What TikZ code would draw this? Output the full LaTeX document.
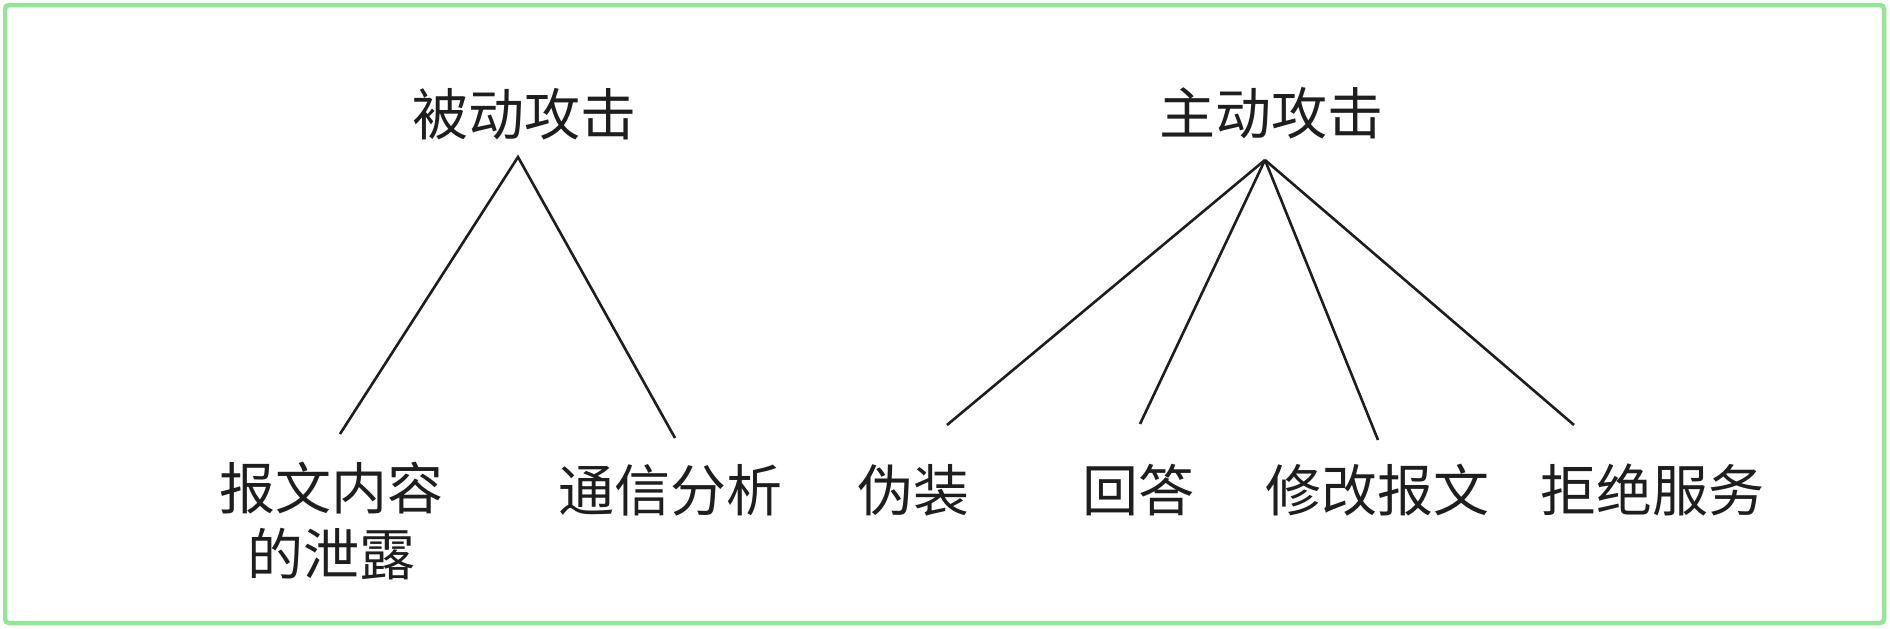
\documentclass[tikz,border=0pt]{standalone}
\usepackage{fontspec}
\newfontfamily\cjk{Noto Sans CJK SC}
\definecolor{frame}{RGB}{150,228,150}
\definecolor{ink}{RGB}{30,30,30}
\begin{document}
\begin{tikzpicture}[x=1pt,y=-1pt,
  lbl/.style={font=\cjk\fontsize{56}{66}\selectfont, text=ink, inner sep=0pt, align=center},
  edge/.style={draw=ink, line width=2.6pt}]
\useasboundingbox (0,0) rectangle (1890,629);
\fill[white] (0,0) rectangle (1890,629);
\draw[frame, line width=4.5pt, rounded corners=4pt] (5,5) rectangle (1884,623);
% titles
\node[lbl] (pas) at (524,114) {被动攻击};
\node[lbl] (act) at (1271,113) {主动攻击};
% leaves
\node[lbl] (l1) at (331,521) {报文内容\\的泄露};
\node[lbl] (l2) at (670,490) {通信分析};
\node[lbl] (r1) at (913,490) {伪装};
\node[lbl] (r2) at (1138,490) {回答};
\node[lbl] (r3) at (1377,490) {修改报文};
\node[lbl] (r4) at (1652,490) {拒绝服务};
% connector points
\coordinate (pa) at (518,157);
\coordinate (aa) at (1265,160);
\coordinate (e1) at (340,434);
\coordinate (e2) at (675,438);
\coordinate (f1) at (947,425);
\coordinate (f2) at (1140,424);
\coordinate (f3) at (1378,440);
\coordinate (f4) at (1574,425);
\draw[edge] (e1) -- (pa) -- (e2);
\draw[edge] (aa) -- (f1);
\draw[edge] (aa) -- (f2);
\draw[edge] (aa) -- (f3);
\draw[edge] (aa) -- (f4);
\end{tikzpicture}
\end{document}
